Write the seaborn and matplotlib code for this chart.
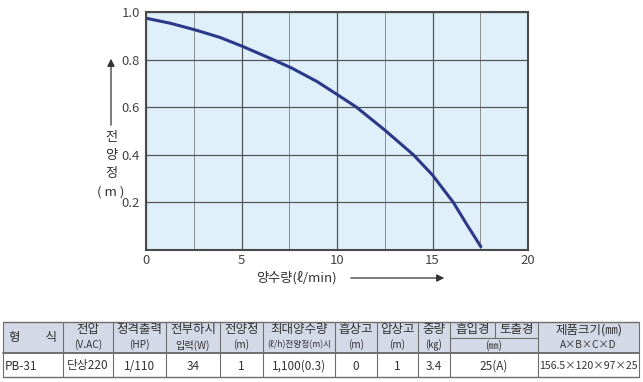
import matplotlib
matplotlib.use("Agg")
import matplotlib.pyplot as plt
import seaborn as sns
import numpy as np
import pandas as pd
from matplotlib.patches import Rectangle, FancyArrowPatch

# ---- chart data ----
flow = [0, 1.26, 2.57, 3.88, 5.07, 6.68, 7.64, 8.95, 10.09, 11.02, 12.5, 14.0, 15.0, 16.09, 16.79, 17.53]
head = [0.974, 0.953, 0.925, 0.893, 0.855, 0.799, 0.764, 0.708, 0.649, 0.6, 0.504, 0.4, 0.315, 0.2, 0.108, 0.014]
x_ticks = [0, 5, 10, 15, 20]
y_ticks = [0.2, 0.4, 0.6, 0.8, 1.0]
x_label = "양수량(ℓ/min)"
y_label_chars = ["전", "양", "정", "( m )"]

# ---- table data ----
header_top = ["형　　식", "전압", "정격출력", "전부하시", "전양정", "최대양수량",
              "흡상고", "압상고", "중량", None, "제품크기(㎜)"]
header_sub = [None, "(V.AC)", "(HP)", "입력(W)", "(m)", "(ℓ/h)전양정(m)시",
              "(m)", "(m)", "(㎏)", None, "A×B×C×D"]
pipe_heads = ["흡입경", "토출경"]
pipe_unit = "(㎜)"
row_values = ["PB-31", "단상220", "1/110", "34", "1", "1,100(0.3)",
              "0", "1", "3.4", "25(A)", "156.5×120×97×25"]

W, H = 643, 382
sns.set_theme(style="white")
plt.rcParams["font.family"] = ["Noto Sans CJK KR", "DejaVu Sans"]

fig = plt.figure(figsize=(W / 100, H / 100), dpi=100)

def fx(px):
    return px / W

def fy(py):
    return 1 - py / H

# ---- table overlay (pixel coordinates, y down) ----
tax = fig.add_axes([0, 0, 1, 1])
tax.set_xlim(0, W)
tax.set_ylim(H, 0)
tax.axis("off")
tax.patch.set_alpha(0)

cols = [3, 63, 113, 166, 220, 263, 335, 377, 418, 450, 538, 639]
hy0, hmid, hy1, ry1 = 322, 338, 353, 377
head_bg = "#d3d9e6"
line_c = "#6e6e6e"

tax.add_patch(Rectangle((cols[0], hy0), cols[-1] - cols[0], hy1 - hy0,
                        facecolor=head_bg, edgecolor="none"))
tax.plot([cols[0], cols[-1]], [hy0, hy0], color=line_c, lw=1.0)
tax.plot([cols[0], cols[-1]], [hy1, hy1], color=line_c, lw=1.4)
tax.plot([cols[0], cols[-1]], [ry1, ry1], color=line_c, lw=1.0)
tax.plot([cols[9], cols[10]], [hmid, hmid], color=line_c, lw=0.8)
for c in cols:
    tax.plot([c, c], [hy0, ry1], color=line_c, lw=0.8)
pipe_mid = (cols[9] + cols[10]) / 2 + 1
tax.plot([pipe_mid, pipe_mid], [hy0, hmid], color=line_c, lw=0.8)

tc = "#333333"
for i in range(len(cols) - 1):
    cx = (cols[i] + cols[i + 1]) / 2
    top, sub = header_top[i], header_sub[i]
    if top is not None and sub is None:
        tax.text(cx, (hy0 + hy1) / 2, top, ha="center", va="center", fontsize=9, color=tc)
    elif top is not None:
        tax.text(cx, 330, top, ha="center", va="center", fontsize=9, color=tc)
        fs = 6.3 if i == 5 else 7.3
        tax.text(cx, 345, sub, ha="center", va="center", fontsize=fs, color=tc)
    val = row_values[i]
    if i == 0:
        tax.text(cols[0] + 2, 366, val, ha="left", va="center", fontsize=8.5, color=tc)
    elif i == len(cols) - 2:
        tax.text(cx, 366, val, ha="center", va="center", fontsize=7.6, color=tc)
    else:
        tax.text(cx, 366, val, ha="center", va="center", fontsize=8.5, color=tc)

tax.text((cols[9] + pipe_mid) / 2, 330, pipe_heads[0], ha="center", va="center", fontsize=9, color=tc)
tax.text((pipe_mid + cols[10]) / 2, 330, pipe_heads[1], ha="center", va="center", fontsize=9, color=tc)
tax.text((cols[9] + cols[10]) / 2, 346, pipe_unit, ha="center", va="center", fontsize=7.3, color=tc)

# ---- chart ----
ax = fig.add_axes([fx(146), fy(250), fx(528) - fx(146), fy(12) - fy(250)])
ax.set_facecolor("#dff0fa")
df = pd.DataFrame({"flow": flow, "head": head})
sns.lineplot(data=df, x="flow", y="head", ax=ax, color="#2c3888", lw=2.2, sort=False)
ax.set_xlim(0, 20)
ax.set_ylim(0, 1)
ax.set_xticks(x_ticks)
ax.set_yticks(y_ticks)
ax.set_xticklabels([str(t) for t in x_ticks])
ax.set_yticklabels([f"{t:.1f}" for t in y_ticks])
ax.set_xticks(np.arange(2.5, 20, 5), minor=True)
ax.grid(which="major", color="#555555", lw=0.9)
ax.grid(which="minor", axis="x", color="#8c8c8c", lw=0.7)
ax.set_axisbelow(True)
ax.tick_params(which="both", length=0)
ax.tick_params(axis="x", labelsize=9.5, colors="#444444", pad=3)
ax.tick_params(axis="y", labelsize=9.5, colors="#444444", pad=4.5)
ax.set_xlabel("")
ax.set_ylabel("")
for s in ax.spines.values():
    s.set_color("#4a4a4a")
    s.set_linewidth(1.5)
    s.set_visible(True)

fig.text(fx(296), fy(278), x_label, ha="center", va="center", fontsize=9.5, color="#333333")
for ch, py in zip(y_label_chars, [138, 155, 173, 192]):
    fig.text(fx(111), fy(py), ch, ha="center", va="center", fontsize=9.5, color="#333333")

arr_kw = dict(transform=fig.transFigure, arrowstyle="-|>", mutation_scale=11,
              color="#333333", lw=0.9)
fig.add_artist(FancyArrowPatch((fx(348), fy(278)), (fx(447), fy(278)), **arr_kw))
fig.add_artist(FancyArrowPatch((fx(111), fy(128)), (fx(111), fy(56)), **arr_kw))

fig.savefig("out.png", dpi=100)
